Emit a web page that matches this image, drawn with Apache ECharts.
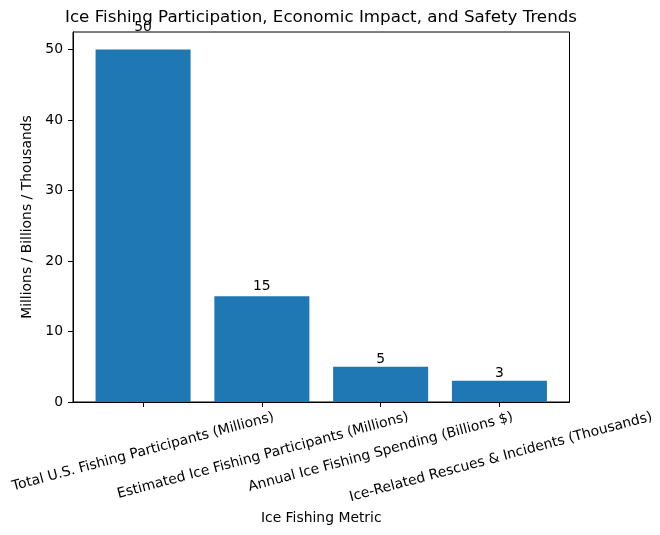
<!DOCTYPE html>
<html>
<head>
<meta charset="utf-8">
<script src="https://cdn.jsdelivr.net/npm/echarts@6/dist/echarts.min.js"></script>
<style>
html,body{margin:0;padding:0;background:#fff;}
#chart{width:660px;height:535px;}
</style>
</head>
<body>
<div id="chart"></div>
<script>
const categories = [
  "Total U.S. Fishing Participants (Millions)",
  "Estimated Ice Fishing Participants (Millions)",
  "Annual Ice Fishing Spending (Billions $)",
  "Ice-Related Rescues & Incidents (Thousands)"
];
const values = [50, 15, 5, 3];
const yTicks = [0, 10, 20, 30, 40, 50];

const FONT = 'DejaVu Sans';
const FS = 13.9;
const gridTop = 32, gridBottom = 133, gridLeft = 73, gridRight = 90.5;
const yMax = 52.5;
const plotH = 535 - gridTop - gridBottom;
const pxPerUnit = plotH / yMax;

// measure labels to emulate centred rotated labels
const ctx = document.createElement('canvas').getContext('2d');
ctx.font = FS + 'px "' + FONT + '"';
const ang = 15 * Math.PI / 180;
const hText = FS * 1.17;
const heights = categories.map(c => {
  const w = ctx.measureText(c).width;
  return w * Math.sin(ang) + hText * Math.cos(ang);
});
const hMin = Math.min.apply(null, heights);
const rich = {};
categories.forEach((c, i) => {
  const d = (heights[i] - hMin);
  rich['l' + i] = {
    fontFamily: FONT, fontSize: FS, color: '#000',
    padding: [d, 0, 0, 0]
  };
});

// bar value labels sit at about 1.05 x value (as in the reference)
const barData = values.map((v, i) => ({
  value: [i, v],
  label: { padding: [0, 0, Math.max(0, v * 0.05 * pxPerUnit - 2), 0] }
}));

const chart = echarts.init(document.getElementById('chart'));
chart.setOption({
  animation: false,
  backgroundColor: '#fff',
  textStyle: { fontFamily: FONT },
  title: {
    text: 'Ice Fishing Participation, Economic Impact, and Safety Trends',
    left: 321, top: 9, padding: 0, textAlign: 'center',
    textStyle: { fontFamily: FONT, fontSize: 16.7, fontWeight: 'normal', color: '#000' }
  },
  grid: {
    left: gridLeft, right: gridRight, top: gridTop, bottom: gridBottom,
    show: true, borderColor: '#000', borderWidth: 1, backgroundColor: 'transparent'
  },
  xAxis: {
    type: 'value',
    min: -0.59, max: 3.59,
    name: 'Ice Fishing Metric',
    nameLocation: 'middle', nameGap: 109,
    nameTextStyle: { fontFamily: FONT, fontSize: FS, color: '#000' },
    axisLine: { show: true, onZero: false, lineStyle: { color: '#000', width: 1 } },
    axisTick: { show: true, length: 5, lineStyle: { color: '#000' }, customValues: [0, 1, 2, 3] },
    splitLine: { show: false },
    axisLabel: {
      customValues: [0, 1, 2, 3],
      rotate: 15,
      align: 'center',
      verticalAlign: 'middle',
      margin: 7 + hMin / 2,
      formatter: v => '{l' + v + '|' + categories[v] + '}',
      rich: rich,
      fontFamily: FONT, fontSize: FS, color: '#000'
    }
  },
  yAxis: {
    type: 'value',
    min: 0, max: yMax,
    name: 'Millions / Billions / Thousands',
    nameLocation: 'middle', nameGap: 27,
    nameTextStyle: { fontFamily: FONT, fontSize: FS, color: '#000' },
    axisLine: { show: true, onZero: false, lineStyle: { color: '#000', width: 1 } },
    axisTick: { show: true, length: 5, lineStyle: { color: '#000' }, customValues: yTicks },
    splitLine: { show: false },
    axisLabel: {
      customValues: yTicks,
      margin: 10,
      fontFamily: FONT, fontSize: FS, color: '#000'
    }
  },
  series: [{
    type: 'bar',
    data: barData,
    barWidth: '80%',
    itemStyle: { color: '#1f77b4', borderWidth: 0 },
    label: {
      show: true, position: 'top', distance: 0,
      fontFamily: FONT, fontSize: FS, color: '#000'
    }
  }]
});
</script>
</body>
</html>
